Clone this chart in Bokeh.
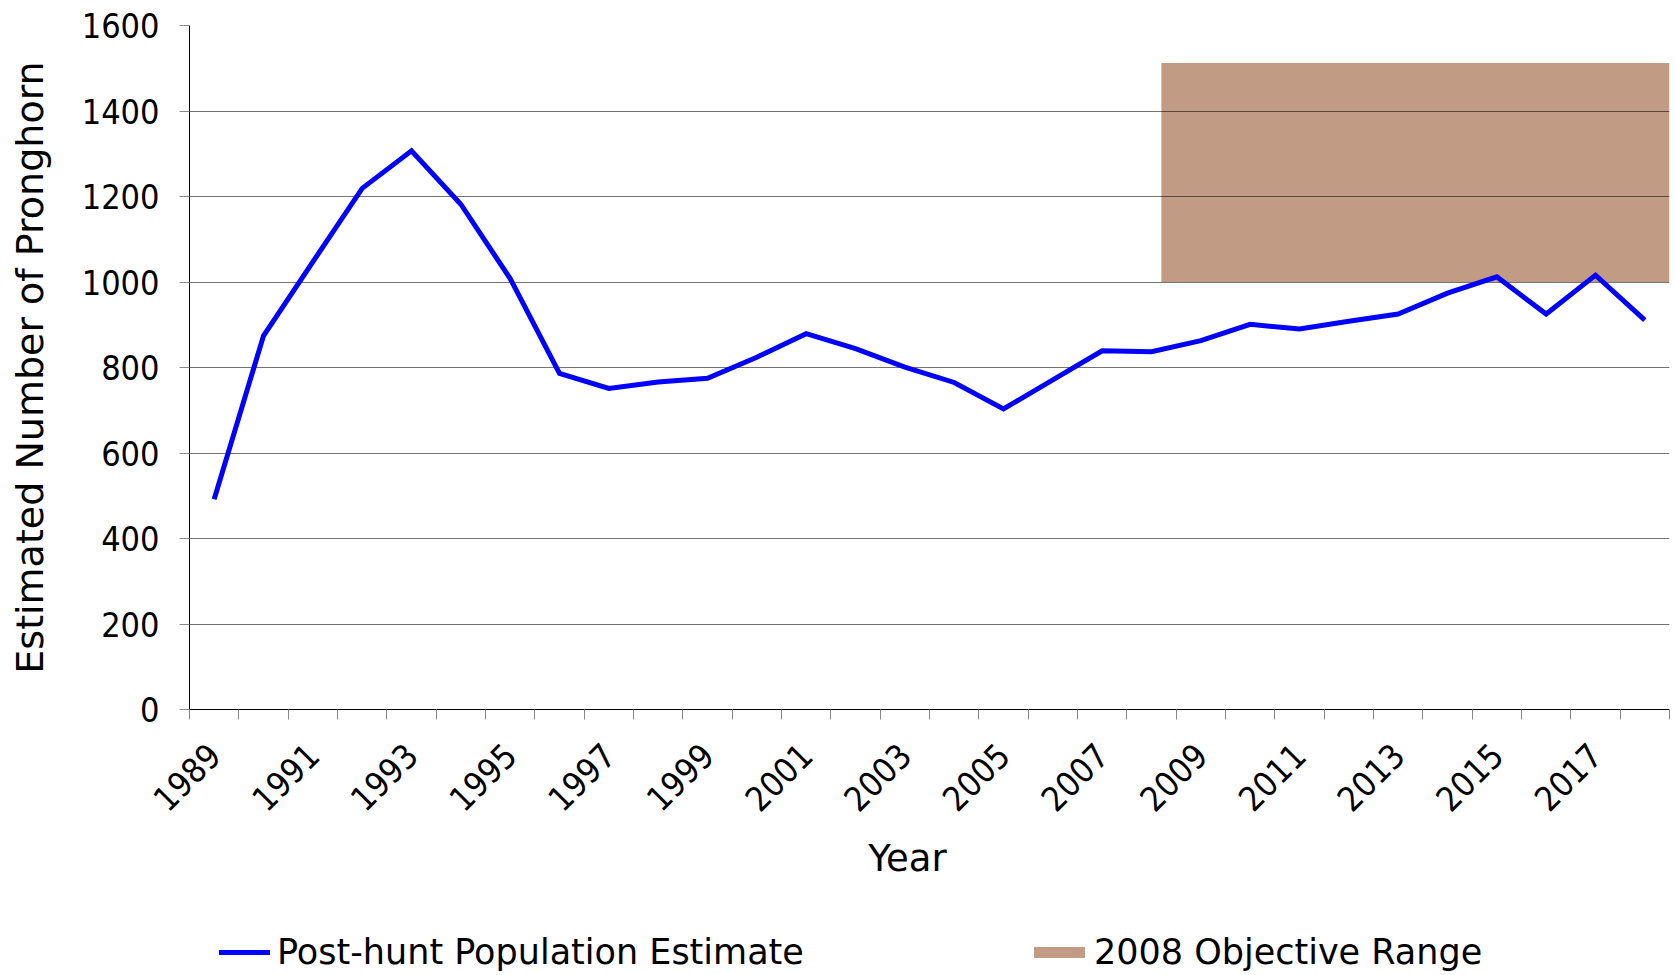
import math
from bokeh.plotting import figure
from bokeh.layouts import column
from bokeh.models import FixedTicker, Legend, LegendItem, Range1d, ColumnDataSource, Label
from bokeh.embed import file_html
from bokeh.resources import INLINE

# ---- data ----
years = list(range(1989, 2019))
population = [492, 874, 1047, 1219, 1307, 1182, 1008, 786, 751, 766,
              775, 824, 879, 844, 801, 765, 703, 771, 839, 837,
              863, 901, 890, 908, 925, 974, 1012, 925, 1016, 911]
tick_years = list(range(1989, 2018, 2))
objective_start = [2008.2]
objective_end = [2018.5]
objective_low = [1000]
objective_high = [1512]

series_name = "Post-hunt Population Estimate"
range_name = "2008 Objective Range"
x_title = "Year"
y_title = "Estimated Number of Pronghorn"

TICK_FONT = "DejaVu Sans Condensed"
LABEL_FONT = "DejaVu Sans"
BOX_COLOR = "#C19B84"
LINE_COLOR = "#0000FF"

W = 1672

# ---------------- main chart ----------------
p = figure(width=W, height=830,
           x_range=Range1d(1988.5, 2018.5), y_range=Range1d(0, 1600),
           output_backend="svg", toolbar_location=None,
           min_border_left=189, min_border_right=3,
           min_border_top=25, min_border_bottom=121)
p.outline_line_color = None
p.background_fill_color = "white"
p.border_fill_color = "white"

box_src = ColumnDataSource(dict(left=objective_start, right=objective_end,
                                bottom=objective_low, top=objective_high))
p.quad(left="left", right="right", bottom="bottom", top="top", source=box_src,
       fill_color=BOX_COLOR, line_color=None, level="image")

line_src = ColumnDataSource(dict(x=years, y=population))
p.line("x", "y", source=line_src, line_color=LINE_COLOR, line_width=5, line_join="miter")

p.xgrid.grid_line_color = None
p.ygrid.grid_line_color = "black"
p.ygrid.grid_line_alpha = 0.55
p.ygrid.grid_line_width = 1
p.yaxis.ticker = FixedTicker(ticks=list(range(0, 1601, 200)))

xa = p.xaxis[0]
xa.ticker = FixedTicker(ticks=tick_years, minor_ticks=[y - 0.5 for y in years] + [years[-1] + 0.5])
xa.major_tick_out = 0
xa.major_tick_in = 0
xa.minor_tick_out = 10
xa.minor_tick_in = 0
xa.minor_tick_line_color = "#888888"
xa.axis_line_color = "black"
xa.major_label_orientation = math.pi / 4
xa.major_label_text_font = TICK_FONT
xa.major_label_text_font_size = "34px"
xa.major_label_text_color = "black"
xa.major_label_standoff = 30

ya = p.yaxis[0]
ya.major_tick_out = 10
ya.major_tick_in = 0
ya.minor_tick_out = 0
ya.minor_tick_in = 0
ya.major_tick_line_color = "#888888"
ya.axis_line_color = "black"
ya.major_label_text_font = TICK_FONT
ya.major_label_text_font_size = "34px"
ya.major_label_text_color = "black"
ya.major_label_standoff = 20
ya.axis_label = y_title
ya.axis_label_text_font = LABEL_FONT
ya.axis_label_text_font_size = "38px"
ya.axis_label_text_font_style = "normal"
ya.axis_label_text_color = "black"
ya.axis_label_standoff = 27

# ---------------- strip below: x title and legend ----------------
# (its frame is aligned with the main chart's frame by the column layout)
q = figure(width=W, height=144, x_range=Range1d(0, 1), y_range=Range1d(0, 1),
           output_backend="svg", toolbar_location=None,
           x_axis_type=None, y_axis_type=None, min_border=0)
q.outline_line_color = None
q.background_fill_color = "white"
q.border_fill_color = "white"

# hidden renderers that only provide the legend swatches' styling
leg_line = q.line("x", "y", source=line_src, line_color=LINE_COLOR, line_width=5,
                  line_cap="round", visible=False)
leg_box = q.line("left", "bottom", source=box_src, line_color=BOX_COLOR, line_width=11,
                 line_cap="round", visible=False)

q.add_layout(Label(x=718, y=116, x_units="screen", y_units="screen", text=x_title,
                   text_align="center", text_baseline="alphabetic",
                   text_font=LABEL_FONT, text_font_size="37px", text_color="black"))

def make_legend(item, loc, gw, standoff):
    lg = Legend(items=[item], location=loc, orientation="horizontal",
                padding=0, margin=0, spacing=0,
                glyph_width=gw, glyph_height=20, label_standoff=standoff,
                border_line_color=None, background_fill_alpha=0,
                inactive_fill_alpha=0,
                label_text_font=LABEL_FONT, label_text_font_size="35px",
                label_text_color="black")
    q.add_layout(lg, "center")
    return lg

make_legend(LegendItem(label=series_name, renderers=[leg_line]), (30, 2), 51, 7)
make_legend(LegendItem(label=range_name, renderers=[leg_box]), (845, 2), 51, 9)

open("out.html", "w").write(file_html(column(p, q, spacing=0), INLINE))
